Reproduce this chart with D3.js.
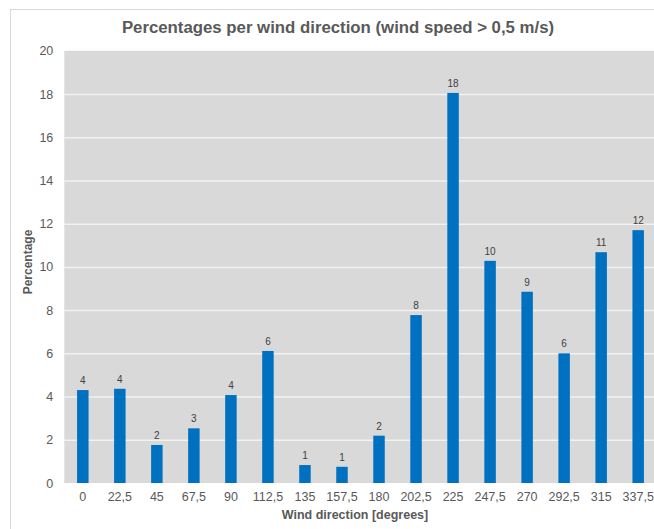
<!DOCTYPE html>
<html>
<head>
<meta charset="utf-8">
<script src="https://cdn.jsdelivr.net/npm/d3@7"></script>
<style>
  html, body { margin: 0; padding: 0; background: #ffffff; }
  svg { display: block; font-family: "Liberation Sans", Arial, sans-serif; }
</style>
</head>
<body>
<svg id="chart" width="654" height="529"></svg>
<script>
// Wind direction sectors and the share of observations in each (percent)
const directions = ["0", "22,5", "45", "67,5", "90", "112,5", "135", "157,5",
                    "180", "202,5", "225", "247,5", "270", "292,5", "315", "337,5"];
const percentages = [4.30, 4.36, 1.76, 2.53, 4.07, 6.11, 0.83, 0.75,
                     2.19, 7.77, 18.05, 10.28, 8.85, 6.00, 10.68, 11.70];
const yTicks = [0, 2, 4, 6, 8, 10, 12, 14, 16, 18, 20];

const svg = d3.select("#chart");
const W = 654, H = 529;
const plot = { left: 64.3, right: 656.7, top: 50.8, bottom: 483 };

// Outer chart frame
svg.append("rect")
  .attr("x", 10.5).attr("y", 9.5)
  .attr("width", W + 20).attr("height", H + 20)
  .attr("fill", "#ffffff").attr("stroke", "#d9d9d9").attr("stroke-width", 1);

const x = d3.scaleBand()
  .domain(directions)
  .range([plot.left, plot.right])
  .paddingInner(0.69)
  .paddingOuter(0.345);

const y = d3.scaleLinear()
  .domain([0, 20])
  .range([plot.bottom, plot.top]);

// Plot background
svg.append("rect")
  .attr("x", plot.left).attr("y", plot.top)
  .attr("width", plot.right - plot.left).attr("height", plot.bottom - plot.top)
  .attr("fill", "#d9d9d9");

// Horizontal gridlines and y tick labels
const yAxis = d3.axisLeft(y)
  .tickValues(yTicks)
  .tickSize(-(plot.right - plot.left))
  .tickPadding(11)
  .tickFormat(d3.format("d"));

const gy = svg.append("g")
  .attr("transform", `translate(${plot.left},0)`)
  .call(yAxis);
gy.select(".domain").remove();
gy.selectAll(".tick line")
  .attr("stroke", "#f2f2f2")
  .attr("stroke-width", 1.5)
  .attr("stroke-opacity", d => (d === 0 || d === 20) ? 0 : 1);
gy.selectAll(".tick text")
  .attr("fill", "#595959")
  .attr("font-size", 12.5);

// Bars
svg.append("g")
  .selectAll("rect")
  .data(percentages)
  .join("rect")
  .attr("x", (d, i) => x(directions[i]))
  .attr("y", d => y(d))
  .attr("width", x.bandwidth())
  .attr("height", d => y(0) - y(d))
  .attr("fill", "#0070c0");

// Value labels above bars
svg.append("g")
  .selectAll("text")
  .data(percentages)
  .join("text")
  .attr("x", (d, i) => x(directions[i]) + x.bandwidth() / 2)
  .attr("y", d => y(d) - 6)
  .attr("text-anchor", "middle")
  .attr("font-size", 10)
  .attr("fill", "#404040")
  .text(d => d3.format(".0f")(d));

// X axis tick labels
const xAxis = d3.axisBottom(x).tickSize(0).tickPadding(9);
const gx = svg.append("g")
  .attr("transform", `translate(0,${plot.bottom})`)
  .call(xAxis);
gx.select(".domain").remove();
gx.selectAll(".tick text")
  .attr("fill", "#595959")
  .attr("font-size", 12.5);

// Chart title
svg.append("text")
  .attr("x", 338).attr("y", 33)
  .attr("text-anchor", "middle")
  .attr("font-size", 16.8)
  .attr("font-weight", "bold")
  .attr("fill", "#595959")
  .text("Percentages per wind direction (wind speed > 0,5 m/s)");

// Axis titles
svg.append("text")
  .attr("x", 355).attr("y", 519)
  .attr("text-anchor", "middle")
  .attr("font-size", 12.5)
  .attr("font-weight", "bold")
  .attr("fill", "#595959")
  .text("Wind direction [degrees]");

svg.append("text")
  .attr("transform", "translate(31.5,262) rotate(-90)")
  .attr("text-anchor", "middle")
  .attr("font-size", 12)
  .attr("font-weight", "bold")
  .attr("fill", "#595959")
  .text("Percentage");
</script>
</body>
</html>
